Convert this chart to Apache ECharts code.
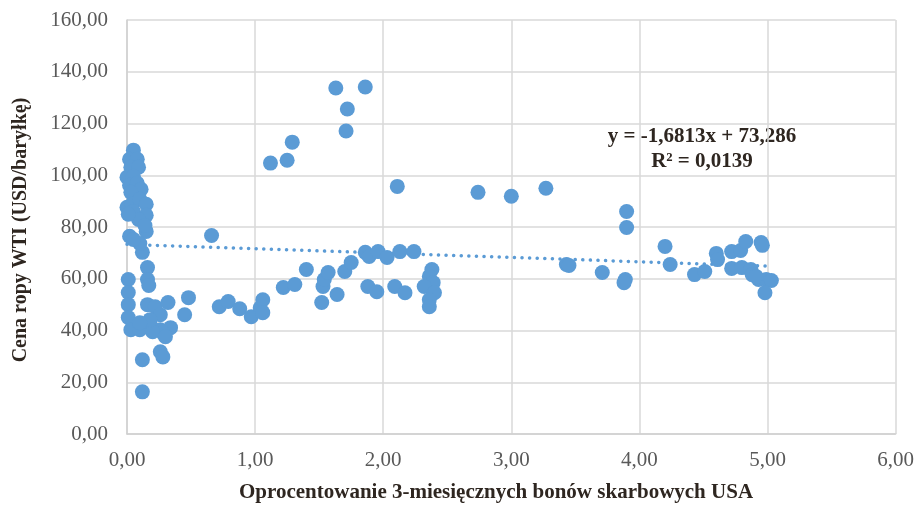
<!DOCTYPE html>
<html>
<head>
<meta charset="utf-8">
<script src="https://cdn.jsdelivr.net/npm/echarts@6/dist/echarts.min.js"></script>
<style>html,body{margin:0;padding:0;background:#fff;}#c{width:917px;height:505px;}</style>
</head>
<body>
<div id="c"></div>
<script>
// Interest rate (x) values
const rateValues = [
  0.05,0.02,0.08,0.03,0.09,0.00,0.05,0.02,0.08,0.11,0.03,0.00,0.04,0.10,0.15,0.05,0.15,0.09,0.01,
  0.02,0.12,0.16,0.15,0.10,0.05,0.14,0.01,0.16,0.17,
  0.01,0.01,0.01,0.03,0.10,0.16,0.22,0.32,0.26,0.18,0.26,0.34,0.45,0.48,0.28,0.20,0.26,0.28,0.12,0.12,0.18,0.10,0.30,
  0.66,0.72,0.79,0.88,0.97,1.04,1.06,1.06,1.22,1.31,1.40,1.52,1.53,1.54,1.57,1.64,1.70,1.75,
  1.86,1.89,1.96,2.03,2.13,2.24,1.88,1.95,2.09,2.17,2.38,2.36,2.39,2.32,2.40,2.36,2.36,
  1.12,1.25,1.29,1.63,1.72,1.71,1.86,2.11,
  2.74,3.00,3.27,3.43,3.45,3.71,3.90,3.90,3.89,3.88,
  4.20,4.24,4.43,4.51,4.60,4.61,4.72,4.72,4.79,4.83,4.80,4.87,4.88,4.95,4.96,4.93,4.99,5.03,4.98,4.91
];
// WTI oil price (y) values
const priceValues = [
  109.7,106.2,106.2,103.1,103.1,99.2,99.6,96.1,96.9,94.6,93.4,87.6,88.8,90.7,88.8,86.0,84.5,82.9,84.9,
  76.4,70.2,64.3,78.3,73.6,75.2,80.6,59.7,59.7,57.4,
  54.7,50.0,45.0,40.3,40.3,50.0,49.2,50.8,46.1,42.2,40.3,41.1,46.1,52.7,39.1,39.5,31.8,29.8,28.7,16.3,44.2,43.0,37.6,
  76.7,49.2,51.2,48.4,45.3,48.8,51.9,46.9,56.6,57.8,63.6,50.8,57.0,59.7,62.4,53.9,62.8,66.3,
  70.2,68.6,70.5,68.2,70.5,70.5,57.0,55.0,57.0,54.6,63.6,60.9,58.5,57.0,54.6,51.9,49.2,
  104.7,105.8,112.8,133.7,125.6,117.1,134.1,95.7,
  93.4,91.9,95.0,65.5,65.1,62.4,86.0,79.8,59.7,58.5,
  72.5,65.5,61.6,62.8,69.8,67.4,70.5,64.0,70.9,74.4,64.3,63.6,61.6,74.0,72.9,59.7,59.7,59.3,54.6,60.9
];
// Linear trend (from equation y = -1,6813x + 73,286)
const trendX = [0.0, 5.03];
const trendY = [73.29, 64.83];
const equationLines = ['y = -1,6813x + 73,286', 'R² = 0,0139'];
const xTitle = 'Oprocentowanie 3-miesięcznych bonów skarbowych USA';
const yTitle = 'Cena ropy WTI (USD/baryłkę)';

const scatterData = rateValues.map((x, i) => [x, priceValues[i]]);
const trendData = trendX.map((x, i) => [x, trendY[i]]);
const fmt = v => v.toFixed(2).replace('.', ',');
const FONT = '"Liberation Serif", "Times New Roman", serif';
const TXT = '#2e2620';

const chart = echarts.init(document.getElementById('c'), null, {renderer: 'canvas'});
chart.setOption({
  animation: false,
  backgroundColor: '#ffffff',
  grid: {left: 127, right: 20, top: 20, bottom: 71},
  xAxis: {
    type: 'value', min: 0, max: 6, interval: 1,
    axisLine: {show: true, lineStyle: {color: '#d0d0d0', width: 1.5}},
    axisTick: {show: false},
    splitLine: {show: true, lineStyle: {color: '#d9d9d9', width: 1.5}},
    axisLabel: {formatter: fmt, color: '#595959', fontFamily: FONT, fontSize: 21, margin: 16}
  },
  yAxis: {
    type: 'value', min: 0, max: 160, interval: 20,
    axisLine: {show: true, lineStyle: {color: '#d0d0d0', width: 1.5}},
    axisTick: {show: false},
    splitLine: {show: true, lineStyle: {color: '#d9d9d9', width: 1.5}},
    axisLabel: {formatter: fmt, color: '#595959', fontFamily: FONT, fontSize: 21, margin: 19}
  },
  graphic: [
    {type: 'text', x: 496, y: 493, style: {text: xTitle, font: 'bold 21px ' + FONT, fill: TXT, textAlign: 'center', textVerticalAlign: 'middle'}},
    {type: 'text', x: 21, y: 230, rotation: Math.PI / 2, style: {text: yTitle, font: 'bold 20px ' + FONT, fill: TXT, textAlign: 'center', textVerticalAlign: 'middle'}},
    {type: 'text', x: 702, y: 137, style: {text: equationLines[0], font: 'bold 21px ' + FONT, fill: TXT, textAlign: 'center', textVerticalAlign: 'middle'}},
    {type: 'text', x: 702, y: 162, style: {text: equationLines[1], font: 'bold 21px ' + FONT, fill: TXT, textAlign: 'center', textVerticalAlign: 'middle'}}
  ],
  series: [
    {
      type: 'line', data: trendData, symbol: 'none', z: 1,
      lineStyle: {color: '#5b9bd5', width: 3.5, type: [0.1, 7.5], cap: 'round'}
    },
    {
      type: 'scatter', data: scatterData, symbol: 'circle', symbolSize: 15, z: 2,
      itemStyle: {color: '#5b9bd5', opacity: 1}
    }
  ]
});
</script>
</body>
</html>
